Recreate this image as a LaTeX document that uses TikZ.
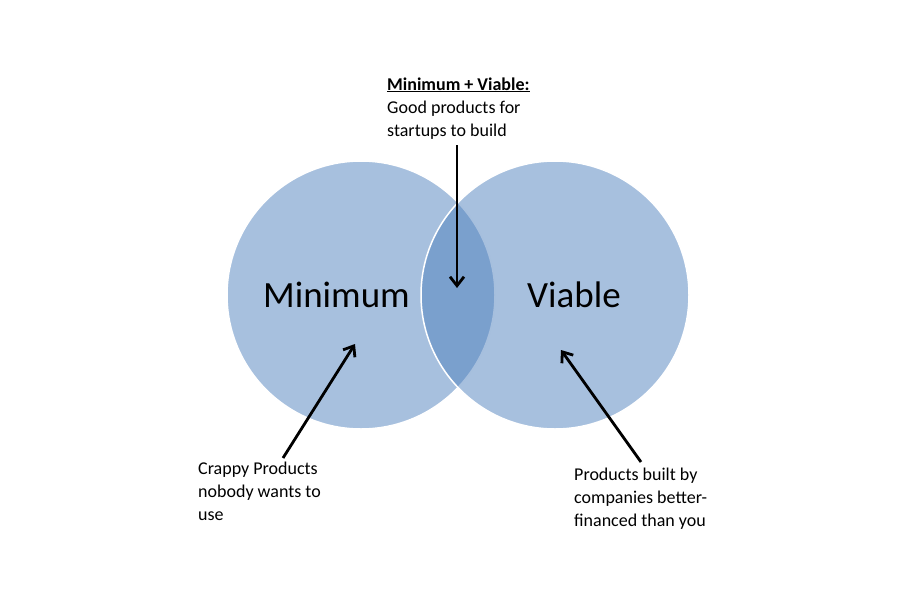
\documentclass[tikz,border=0pt]{standalone}
\usepackage{fontspec}
\setmainfont{Carlito}
\usetikzlibrary{arrows.meta}
\definecolor{vennblue}{HTML}{4F81BD}
\tikzset{
  venn/.style={circle, minimum size=268pt, inner sep=0pt, fill=vennblue, fill opacity=0.5, draw=white, draw opacity=1, line width=1.5pt},
  bigword/.style={font=\fontsize{37}{44}\selectfont, text=black, inner sep=0pt},
  note/.style={font=\fontsize{18}{23}\selectfont, align=left, inner sep=0pt, anchor=base west, text=black},
  pointer/.style={line width=2.8pt, -{Straight Barb[length=9pt,width=14pt]}}
}
\begin{document}
\begin{tikzpicture}[x=1pt,y=-1pt]
\useasboundingbox (0,0) rectangle (898,600);
\node[venn] (L) at (361,295) {};
\node[venn] (R) at (555,295) {};
\node[bigword, anchor=base west] (minw) at (263,307) {Minimum};
\node[bigword, anchor=base west] (viaw) at (527,307) {Viable};
\node[note] (top) at (387,136) {\underline{\textbf{Minimum + Viable:}}\\Good products for\\startups to build};
\node[note] (lt) at (198,520) {Crappy Products\\nobody wants to\\use};
\node[note] (rt) at (574,526) {Products built by\\companies better-\\financed than you};
\coordinate (topstart) at (457,145);
\coordinate (toptip) at (457,288);
\coordinate (lstart) at (283,458);
\coordinate (ltip) at (355,344);
\coordinate (rstart) at (641,462);
\coordinate (rtip) at (561,350);
\draw[pointer] (topstart) -- (toptip);
\draw[pointer] (lstart) -- (ltip);
\draw[pointer] (rstart) -- (rtip);
\end{tikzpicture}
\end{document}
